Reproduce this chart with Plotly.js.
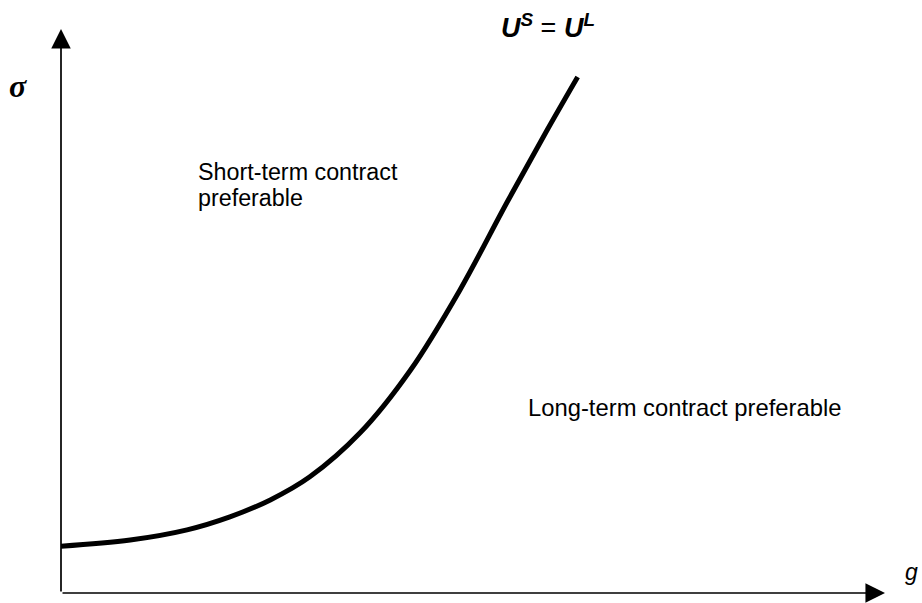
<!DOCTYPE html>
<html>
<head>
<meta charset="utf-8">
<script src="https://cdn.plot.ly/plotly-3.0.1.min.js"></script>
<style>html,body{margin:0;padding:0;background:#fff;}#chart{width:922px;height:603px;}</style>
</head>
<body>
<div id="chart"></div>
<script>
// Boundary curve U^S = U^L (g on x, sigma on y)
const gValues = [0, 0.84, 1.53, 2.05, 2.54, 3.02, 3.63, 4.24, 4.84, 5.41, 5.90, 6.27];
const sigmaValues = [0.83, 0.94, 1.12, 1.35, 1.65, 2.06, 2.84, 3.95, 5.37, 6.92, 8.21, 9.15];
const axisMax = [10, 10];
const labels = {
  curve: "<b><i>U<sup>S</sup></i></b> = <b><i>U<sup>L</sup></i></b>",
  sigma: "<b><i>σ</i></b>",
  g: "<i>g</i>",
  shortLine1: "Short-term contract",
  shortLine2: "preferable",
  longTerm: "Long-term contract preferable"
};

const sans = "Arial, 'Liberation Sans', sans-serif";
const serif = "'Times New Roman', 'Liberation Serif', serif";

const trace = {
  x: gValues, y: sigmaValues, type: "scatter", mode: "lines",
  line: {color: "#000", width: 5, shape: "spline", smoothing: 1},
  hoverinfo: "skip", cliponaxis: false
};

const layout = {
  width: 922, height: 603,
  margin: {l: 61, r: 37, t: 29, b: 10, pad: 0},
  paper_bgcolor: "#fff", plot_bgcolor: "#fff",
  showlegend: false,
  xaxis: {range: [0, axisMax[0]], showgrid: false, zeroline: false, showticklabels: false, showline: false, ticks: ""},
  yaxis: {range: [0, axisMax[1]], showgrid: false, zeroline: false, showticklabels: false, showline: false, ticks: ""},
  annotations: [
    // x axis arrow
    {x: axisMax[0], y: 0, ax: 0, ay: 0, xref: "x", yref: "y", axref: "x", ayref: "y",
     text: "", showarrow: true, arrowhead: 2, arrowsize: 2.3, arrowwidth: 1.7, arrowcolor: "#000", standoff: 0},
    // y axis arrow
    {x: 0, y: axisMax[1], ax: 0, ay: 0, xref: "x", yref: "y", axref: "x", ayref: "y",
     text: "", showarrow: true, arrowhead: 2, arrowsize: 2.3, arrowwidth: 1.7, arrowcolor: "#000", standoff: 0},
    {xref: "paper", yref: "paper", x: (18 - 61) / 824, y: (593 - 86) / 564, text: labels.sigma, showarrow: false,
     xanchor: "center", yanchor: "middle", font: {family: serif, size: 32, color: "#000"}},
    {xref: "paper", yref: "paper", x: (911 - 61) / 824, y: (593 - 572) / 564, text: labels.g, showarrow: false,
     xanchor: "center", yanchor: "middle", font: {family: sans, size: 23, color: "#000"}},
    {xref: "paper", yref: "paper", x: (548 - 61) / 824, y: (593 - 26) / 564, text: labels.curve, showarrow: false,
     xanchor: "center", yanchor: "middle", font: {family: sans, size: 27, color: "#000"}},
    {xref: "paper", yref: "paper", x: (196 - 61) / 824, y: (593 - 172) / 564, text: labels.shortLine1, showarrow: false,
     xanchor: "left", yanchor: "middle", font: {family: sans, size: 23.3, color: "#000"}},
    {xref: "paper", yref: "paper", x: (196 - 61) / 824, y: (593 - 198) / 564, text: labels.shortLine2, showarrow: false,
     xanchor: "left", yanchor: "middle", font: {family: sans, size: 23.3, color: "#000"}},
    {xref: "paper", yref: "paper", x: (526 - 61) / 824, y: (593 - 407) / 564, text: labels.longTerm, showarrow: false,
     xanchor: "left", yanchor: "middle", font: {family: sans, size: 23.8, color: "#000"}}
  ]
};

Plotly.newPlot("chart", [trace], layout, {staticPlot: true, displayModeBar: false});
</script>
</body>
</html>
